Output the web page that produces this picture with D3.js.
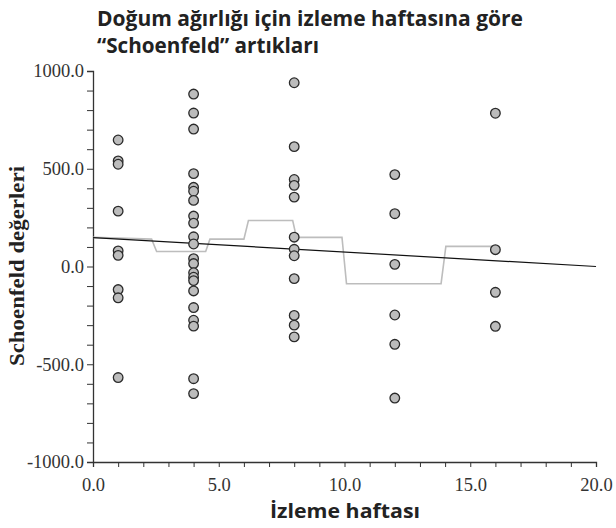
<!DOCTYPE html>
<html>
<head>
<meta charset="utf-8">
<script src="https://cdn.jsdelivr.net/npm/d3@7"></script>
<style>
  body { margin: 0; background: #fff; }
  svg { display: block; }
</style>
</head>
<body>
<div id="chart"></div>
<script>
var W = 616, H = 528,
    m = {t:71, r:20, b:66, l:93};

// residual columns (follow-up week) and their Schoenfeld values
var weeks = [1, 4, 8, 12, 16];
var week1 = [647, 540, 523, 283, 80, 57, -118, -160, -568];
var week4 = [882, 785, 703, 475, 405, 385, 338, 258, 222, 152, 115, 40, 15, -32, -55, -72, -125, -210, -275, -305, -574, -650];
var week8 = [940, 613, 445, 415, 355, 150, 88, 55, -62, -250, -300, -360];
var week12 = [470, 270, 11, -248, -398, -673];
var week16 = [784, 86, -132, -306];

// fitted line and smoothed step curve
var fitX = [0, 20];
var fitY = [148, 0];
var smoothX = [0, 2.33, 2.53, 4.48, 4.65, 6.0, 6.18, 7.94, 8.09, 9.9, 10.08, 13.84, 14.03, 16.0];
var smoothY = [149, 140, 77, 77, 140, 140, 235, 235, 149, 149, -88, -88, 103, 103];

var xTicks = [0, 5, 10, 15, 20];
var yTicks = [-1000, -500, 0, 500, 1000];

var title1 = "Doğum ağırlığı için izleme haftasına göre";
var title2 = "“Schoenfeld” artıkları";
var xTitle = "İzleme haftası";
var yTitle = "Schoenfeld değerleri";

var columns = [week1, week4, week8, week12, week16];
var points = [];
columns.forEach(function(col, i){
  col.forEach(function(v){ points.push({x: weeks[i], y: v}); });
});

var svg = d3.select("#chart").append("svg")
  .attr("width", W).attr("height", H);

var x = d3.scaleLinear().domain([0, 20]).range([m.l, W - m.r]);
var y = d3.scaleLinear().domain([-1000, 1000]).range([H - m.b, m.t]);

var tickFont = "'Liberation Serif', serif";
var boldFont = "'Open Sans', sans-serif";
var fmt = function(d){ return d3.format(".1f")(d).replace("\u2212", "-"); };

// axes
var axisX = d3.axisBottom(x)
  .tickValues(d3.range(0, 21, 1))
  .tickSize(5)
  .tickFormat(function(d){ return xTicks.indexOf(d) >= 0 ? fmt(d) : ""; });

var axisY = d3.axisLeft(y)
  .tickValues(d3.range(-1000, 1001, 100))
  .tickSize(6)
  .tickFormat(function(d){ return yTicks.indexOf(d) >= 0 ? fmt(d) : ""; });

var gx = svg.append("g")
  .attr("transform", "translate(0," + (H - m.b) + ")")
  .call(axisX);
gx.select(".domain").attr("stroke", "#333").attr("stroke-width", 1.3);
gx.selectAll(".tick line").attr("stroke", "#333").attr("stroke-width", 1);
gx.selectAll(".tick text")
  .attr("font-family", tickFont).attr("font-size", "18.5px")
  .attr("fill", "#333").attr("y", 10).attr("dy", "1.0em");

var gy = svg.append("g")
  .attr("transform", "translate(" + m.l + ",0)")
  .call(axisY);
gy.select(".domain").attr("stroke", "#333").attr("stroke-width", 1.3);
gy.selectAll(".tick line").attr("stroke", "#333").attr("stroke-width", 1);
gy.selectAll(".tick text")
  .attr("font-family", tickFont).attr("font-size", "18.5px")
  .attr("fill", "#333").attr("x", -9);

// smoothed curve
var line = d3.line()
  .x(function(d){ return x(d[0]); })
  .y(function(d){ return y(d[1]); });

svg.append("path")
  .datum(d3.zip(smoothX, smoothY))
  .attr("d", line)
  .attr("fill", "none")
  .attr("stroke", "#bdbdbd")
  .attr("stroke-width", 1.6);

svg.append("path")
  .datum(d3.zip(fitX, fitY))
  .attr("d", line)
  .attr("fill", "none")
  .attr("stroke", "#111")
  .attr("stroke-width", 1.2);

// points
svg.selectAll(".dots")
  .data(points)
  .enter().append("circle")
  .attr("class", "dots")
  .attr("cx", function(d){ return x(d.x); })
  .attr("cy", function(d){ return y(d.y); })
  .attr("r", 4.8)
  .attr("fill", "#bcbcbc")
  .attr("stroke", "#2a2a2a")
  .attr("stroke-width", 1.3);

// titles
svg.append("text")
  .attr("x", 97).attr("y", 26)
  .attr("font-family", boldFont).attr("font-weight", "bold")
  .attr("font-size", "21px").attr("fill", "#222")
  .attr("textLength", 426).attr("lengthAdjust", "spacingAndGlyphs")
  .text(title1);
svg.append("text")
  .attr("x", 97).attr("y", 53)
  .attr("font-family", boldFont).attr("font-weight", "bold")
  .attr("font-size", "21px").attr("fill", "#222")
  .attr("textLength", 222).attr("lengthAdjust", "spacingAndGlyphs")
  .text(title2);

svg.append("text")
  .attr("x", 345).attr("y", 518)
  .attr("text-anchor", "middle")
  .attr("font-family", boldFont).attr("font-weight", "bold")
  .attr("font-size", "20px").attr("fill", "#222")
  .attr("textLength", 150).attr("lengthAdjust", "spacingAndGlyphs")
  .text(xTitle);

svg.append("text")
  .attr("transform", "translate(24,266) rotate(-90)")
  .attr("text-anchor", "middle")
  .attr("font-family", "'Liberation Serif', serif").attr("font-weight", "bold")
  .attr("font-size", "21px").attr("fill", "#222")
  .attr("textLength", 200).attr("lengthAdjust", "spacingAndGlyphs")
  .text(yTitle);
</script>
</body>
</html>
